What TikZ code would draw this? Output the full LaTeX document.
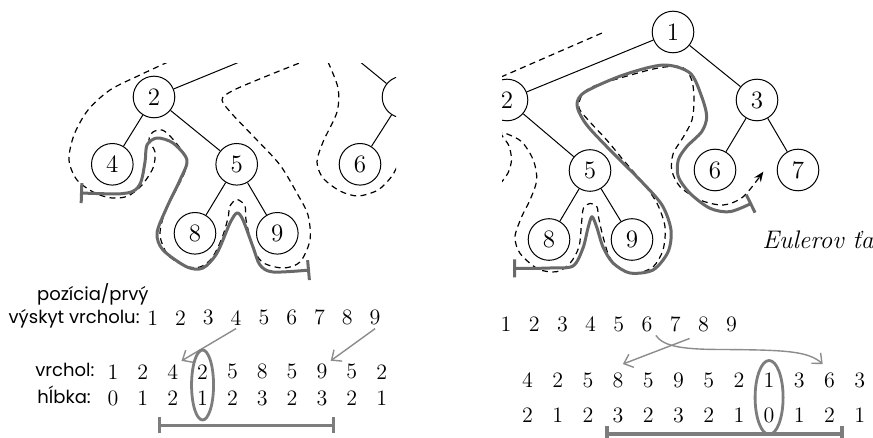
\documentclass[tikz,border=0pt]{standalone}
\usepackage{fontspec}
\newfontfamily\handfont{Poppins}
\usetikzlibrary{arrows.meta,calc}
\definecolor{tourgray}{RGB}{105,105,105}
\definecolor{markgray}{RGB}{125,125,125}
\definecolor{pointgray}{RGB}{140,140,140}
\begin{document}
\begin{tikzpicture}[x=0.5pt,y=-0.5pt,
  tnode/.style={circle,draw,line width=0.5pt,minimum size=20.8pt,inner sep=0pt,
    font=\fontsize{12.5}{14}\selectfont},
  tedge/.style={line width=0.5pt},
  contour/.style={line width=0.6pt,dash pattern=on 3pt off 2.2pt},
  tour/.style={draw=tourgray,line width=1.5pt,line cap=round,line join=round},
  dig/.style={inner sep=1.5pt,font=\fontsize{11}{13}\selectfont},
  hand/.style={inner sep=0pt,font=\handfont\fontsize{9}{11}\selectfont},
  pointer/.style={draw=pointgray,line width=0.7pt,-{Straight Barb[length=4pt,width=7pt]}},
  oval/.style={draw=markgray,line width=1.4pt},
  span/.style={draw=markgray,line width=1.7pt,{Bar[width=8pt]}-{Bar[width=8pt]}},
]
\useasboundingbox (0,0) rectangle (873,438);
\fill[white] (0,0) rectangle (873,438);

% ---------- left tree: tour from 4 to 9 ----------
\begin{scope}
\clip (0,64) rectangle (396,290);
\coordinate (L1) at (320,29);
\node[tnode] (L2) at (154,97) {2};
\node[tnode] (L3) at (403,97) {};
\node[tnode] (L4) at (112.3,164.3) {4};
\node[tnode] (L5) at (236.7,164.3) {5};
\node[tnode] (L6) at (360,164.3) {6};
\node[tnode] (L8) at (195,233.3) {8};
\node[tnode] (L9) at (277.3,233.3) {9};
\draw[tedge] (L1) -- (L2) (L1) -- (L3) (L2) -- (L4) (L2) -- (L5)
  (L5) -- (L8) (L5) -- (L9) (L3) -- (L6);
\draw[contour] plot[smooth] coordinates {(168,62) (140,75) (110,90) (88,110)
  (74,135) (69,160) (77,180) (95,193) (112,198) (128,196) (142,185) (153,168)
  (155,152) (149,140) (153,132) (162,130) (170,136) (180,148) (187,160)
  (184,174) (176,190) (165,212) (160,235) (168,255) (185,266) (200,267)
  (212,258) (222,238) (228,218) (230,206) (237,199.5) (245,206) (246,220)
  (252,244) (262,262) (283,268) (300,262) (310,240) (308,215) (298,195)
  (280,165) (255,138) (233,115) (222,100) (232,91) (262,78) (302,62)};
\draw[contour] plot[smooth] coordinates {(328,62) (338,88) (337,112) (323,142)
  (317,162) (323,178) (340,191) (358,196) (378,190) (392,176) (400,160)};
\draw[tour,{Bar[width=10pt]}-{Bar[width=10pt]}] plot[smooth] coordinates {(80,193)
  (127,193) (140,184) (145,162) (147,145) (157,138) (173,143) (187,160)
  (180,180) (167,207) (157,233) (163,250) (187,267) (203,268) (217,253)
  (230,223) (237,213) (243,220) (253,247) (260,265) (273,272) (310,270)};
\end{scope}

% ---------- right tree: tour from 8 to 6 ----------
\begin{scope}
\clip (502,0) rectangle (873,290);
\node[tnode] (R1) at (673,32) {1};
\node[tnode] (R2) at (507,100) {2};
\node[tnode] (R3) at (757,100) {3};
\node[tnode] (R5) at (590,170.5) {5};
\node[tnode] (R6) at (715,170) {6};
\node[tnode] (R7) at (798,170) {7};
\node[tnode] (R8) at (549,239.5) {8};
\node[tnode] (R9) at (632,239.5) {9};
\draw[tedge] (R1) -- (R2) (R1) -- (R3) (R2) -- (R5) (R3) -- (R6)
  (R3) -- (R7) (R5) -- (R8) (R5) -- (R9);
\draw[contour] (501,77) -- (605,31.7);
\draw[contour,-{Stealth[length=5pt,width=4pt]}] plot[smooth] coordinates {(500,184)
  (508,173) (511.5,160) (509,146) (503,137) (501,133) (506,133.5) (521.7,141.7)
  (533.3,160) (536.7,180) (530,200) (521.7,216.7) (515,236.7) (520,253.3)
  (538,269) (556.7,271.7) (570,263.3) (579,246.7) (581.5,223.3) (583.5,208)
  (590,203.5) (597,207) (598.5,217) (603,236.7) (610,258) (623.3,271)
  (637,273.3) (653.3,266.7) (663,250) (665,226.7) (657,203.3) (643.3,183.3)
  (623.3,160) (606.7,140) (590,122) (579,108) (582,95) (592,87) (616.7,79)
  (656.7,68.3) (681.7,67) (691.7,80) (694,100) (692,120) (683.3,137)
  (673.3,153.3) (671.7,170) (680,186.7) (700,200) (723.3,205) (743.3,196.7)
  (763.3,171.7)};
\draw[tour,{Bar[width=9pt]}-{Bar[width=10pt]}] plot[smooth] coordinates {(513,268.3)
  (550,268) (573,266) (583,248) (588,228) (592,216.7) (597,228) (603,247)
  (613,263) (630,273) (653,270) (668,252) (671,230) (662,205) (640,180)
  (610,150) (586,124) (577,105) (585,92) (623.3,75) (663.3,65) (690,73)
  (701.7,96.7) (706.7,116.7) (701.7,131.7) (686.7,146.7) (678.3,160)
  (678.3,176.7) (690,193.3) (710,208.3) (730,211.7) (752,203)};
\end{scope}

\node[anchor=base west,inner sep=0pt,font=\fontsize{12.7}{15}\selectfont\itshape]
  (eul) at (762,248.3) {Eulerov ťa};

% ---------- left tables ----------
\node[hand,anchor=base west] (lblpos) at (36.7,300) {pozícia/prvý};
\node[hand,anchor=base east] (lblocc) at (140,323.5) {výskyt vrcholu:};
\node[hand,anchor=base west] (lblvtx) at (35,377) {vrchol:};
\node[hand,anchor=base west] (lbldep) at (37,403.5) {hĺbka:};
\foreach \d [count=\i] in {1,2,3,4,5,6,7,8,9}
  \node[dig] (lt\i) at ({152.7+(\i-1)*27.8},317.7) {\d};
\foreach \d [count=\i] in {1,2,4,2,5,8,5,9,5,2}
  \node[dig] (lv\i) at ({113+(\i-1)*29.85},371.7) {\d};
\foreach \d [count=\i] in {0,1,2,1,2,3,2,3,2,1}
  \node[dig] (lh\i) at ({113+(\i-1)*29.85},398.3) {\d};
\draw[pointer] (lt4.south) -- (lv3.north east);
\draw[pointer] (lt9.south) -- (lv8.north east);
\draw[oval] ($(lv4)!0.5!(lh4)$) ellipse [x radius=11, y radius=35];
\draw[span] ($(lh3)+(-15,27)$) -- ($(lh8)+(13,27)$);

% ---------- right tables ----------
\foreach \d [count=\i] in {1,2,3,4,5,6,7,8,9}
  \node[dig] (rt\i) at ({506+(\i-1)*28.2},324.5) {\d};
\foreach \d [count=\i] in {4,2,5,8,5,9,5,2,1,3,6,3}
  \node[dig] (rv\i) at ({527.5+(\i-1)*30.2},380) {\d};
\foreach \d [count=\i] in {2,1,2,3,2,3,2,1,0,1,2,1}
  \node[dig] (rh\i) at ({527.5+(\i-1)*30.2},415) {\d};
\draw[pointer] ($(rt8.south west)+(-5,3)$) -- ($(rv4.north east)+(-4,-5)$);
\draw[pointer] (rt6.south east) .. controls (664,347) and (684,349.5) ..
  (724,349.5) .. controls (785,350) and (808,351) .. ($(rv11.north west)+(2,-5)$);
\draw[oval] ($(rv9)!0.5!(rh9)$) ellipse [x radius=14, y radius=37];
\draw[span] ($(rh4)+(-13,19)$) -- ($(rh11)+(14,19)$);
\end{tikzpicture}
\end{document}
